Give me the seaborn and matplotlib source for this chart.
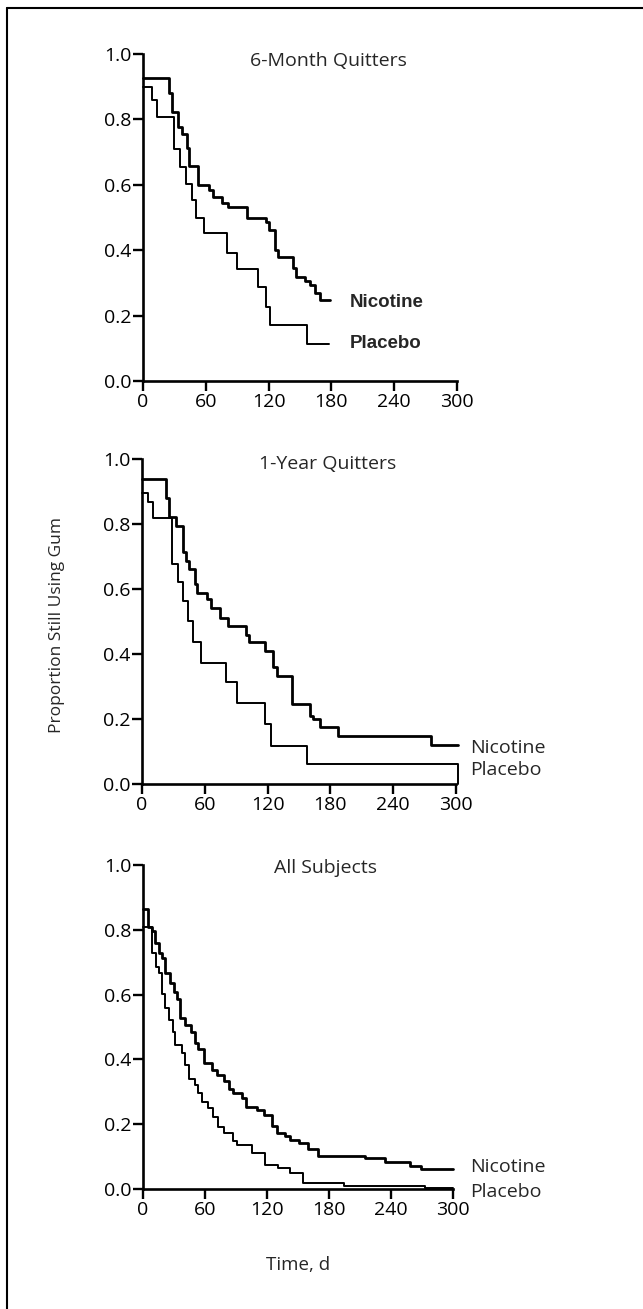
import matplotlib
matplotlib.use("Agg")
import matplotlib.pyplot as plt
from matplotlib.lines import Line2D
import seaborn as sns

# Kaplan-Meier style step data: (time in days, proportion still using gum)
m6_nic_t = [0, 25.2, 27.4, 33.8, 36.9, 42.3, 44.3, 52.2, 63.3, 67.2, 75.1, 81.5, 99.0, 117.5,
            120.7, 126.1, 129.3, 143.0, 146.1, 154.7, 159.5, 164.3, 169.1, 178.6]
m6_nic_s = [0.926, 0.882, 0.824, 0.778, 0.757, 0.712, 0.658, 0.599, 0.584, 0.564, 0.543, 0.531,
            0.499, 0.485, 0.462, 0.401, 0.378, 0.345, 0.319, 0.306, 0.294, 0.270, 0.248, 0.248]
m6_pla_t = [0, 8.3, 13.1, 29.6, 35.3, 41.1, 46.5, 50.6, 58.3, 79.9, 90.1, 109.5, 117.2, 121.3,
            157, 178]
m6_pla_s = [0.900, 0.859, 0.808, 0.709, 0.655, 0.602, 0.554, 0.498, 0.452, 0.391, 0.342, 0.288,
            0.225, 0.171, 0.113, 0.113]

y1_nic_t = [0, 22.9, 25.8, 32.5, 38.9, 42, 45.2, 50.6, 52.8, 62.4, 65.6, 74.5, 82.5, 99.3, 102.2,
            117.5, 125.4, 128.6, 143.6, 160.5, 163.6, 170, 187, 276, 302]
y1_nic_s = [0.938, 0.879, 0.821, 0.794, 0.715, 0.687, 0.662, 0.615, 0.587, 0.568, 0.541, 0.512,
            0.486, 0.458, 0.438, 0.409, 0.361, 0.333, 0.246, 0.209, 0.199, 0.176, 0.148, 0.120, 0.120]
y1_pla_t = [0, 6, 10.2, 28.4, 34.1, 39.5, 44.3, 48.4, 56.1, 79.9, 90.5, 117.5, 123, 157.9, 302]
y1_pla_s = [0.894, 0.869, 0.817, 0.676, 0.622, 0.563, 0.502, 0.438, 0.373, 0.313, 0.250, 0.184,
            0.118, 0.062, 0.0]

all_nic_t = [0, 5.1, 8.4, 11.6, 15.8, 18.1, 21.3, 26.1, 30, 33.2, 35.8, 40.7, 46.2, 50.3, 53, 59,
             66.5, 71.9, 78.7, 83.5, 87.4, 95.5, 99.4, 110, 117, 124.6, 129.4, 137.5, 142.3, 151.3,
             160, 169.7, 214.9, 234.3, 258.5, 268.8, 299.8]
all_nic_s = [0.863, 0.810, 0.796, 0.758, 0.727, 0.712, 0.666, 0.635, 0.609, 0.585, 0.527, 0.506,
             0.486, 0.452, 0.431, 0.388, 0.367, 0.352, 0.334, 0.308, 0.295, 0.280, 0.254, 0.244,
             0.228, 0.194, 0.174, 0.164, 0.151, 0.141, 0.123, 0.103, 0.095, 0.082, 0.072, 0.062,
             0.062]
all_pla_t = [0, 8.4, 12.6, 15.8, 18.7, 21.3, 25.2, 28.7, 31, 37.5, 40.7, 44.8, 50.3, 53.5, 56.8,
             62.6, 67.5, 72.9, 78.4, 86.8, 91.3, 105.2, 118.1, 131, 142.3, 154.6, 194.6, 273, 300]
all_pla_s = [0.810, 0.729, 0.686, 0.666, 0.602, 0.558, 0.522, 0.486, 0.444, 0.419, 0.383, 0.339,
             0.321, 0.295, 0.269, 0.249, 0.223, 0.192, 0.174, 0.149, 0.136, 0.110, 0.074, 0.064,
             0.048, 0.019, 0.010, 0.003, 0.003]

titles = ["6-Month Quitters", "1-Year Quitters", "All Subjects"]
x_ticks = [0, 60, 120, 180, 240, 300]
y_ticks = [0.0, 0.2, 0.4, 0.6, 0.8, 1.0]
y_tick_labels = ["0.0", "0.2", "0.4", "0.6", "0.8", "1.0"]

sns.set_style("ticks")
plt.rcParams['font.family'] = ['Open Sans', 'DejaVu Sans']

fig = plt.figure(figsize=(6.43, 13.09), dpi=100)

# axes boxes in figure fractions [left, bottom, width, height]
boxes = [[0.2224, 0.7089, 0.4883, 0.2498],
         [0.2208, 0.4011, 0.4883, 0.2483],
         [0.2224, 0.0917, 0.4821, 0.2475]]
series = [(m6_nic_t, m6_nic_s, m6_pla_t, m6_pla_s),
          (y1_nic_t, y1_nic_s, y1_pla_t, y1_pla_s),
          (all_nic_t, all_nic_s, all_pla_t, all_pla_s)]
title_y = [0.98, 0.985, 0.99]
# label positions (x, nicotine y, placebo y)
label_pos = [(198, 0.239, 0.115), (314, 0.111, 0.043), (317, 0.069, -0.008)]

for i in range(3):
    ax = fig.add_axes(boxes[i])
    nt, ns, pt, ps = series[i]
    sns.lineplot(x=nt, y=ns, ax=ax, drawstyle='steps-post', color='black', linewidth=2.0,
                 estimator=None, sort=False, clip_on=False)
    sns.lineplot(x=pt, y=ps, ax=ax, drawstyle='steps-post', color='black', linewidth=1.4,
                 estimator=None, sort=False, clip_on=False)
    ax.set_xlim(0, 300)
    ax.set_ylim(0, 1)
    ax.set_xticks(x_ticks)
    ax.set_xticklabels([str(v) for v in x_ticks])
    ax.set_yticks(y_ticks)
    ax.set_yticklabels(y_tick_labels)
    ax.tick_params(direction='out', length=7, width=1.7, labelsize=14, pad=1.5, colors='black')
    sns.despine(ax=ax)
    for side in ['left', 'bottom']:
        ax.spines[side].set_linewidth(1.9)
        ax.spines[side].set_color('black')
    ax.set_xlabel('')
    ax.set_ylabel('')
    ax.text(177, title_y[i], titles[i], ha='center', va='center', fontsize=14)
    lx, ly_n, ly_p = label_pos[i]
    if i == 0:
        ax.text(lx, ly_n, "Nicotine", ha='left', va='center', fontsize=13.5,
                family=['Liberation Sans', 'DejaVu Sans'], fontweight='bold', clip_on=False)
        ax.text(lx, ly_p, "Placebo", ha='left', va='center', fontsize=13.5,
                family=['Liberation Sans', 'DejaVu Sans'], fontweight='bold', clip_on=False)
    else:
        ax.text(lx, ly_n, "Nicotine", ha='left', va='center', fontsize=14, clip_on=False)
        ax.text(lx, ly_p, "Placebo", ha='left', va='center', fontsize=14, clip_on=False)

fig.text(57 / 643, 1 - 625 / 1309, "Proportion Still Using Gum", rotation=90,
         ha='center', va='center', fontsize=12.5)
fig.text(298 / 643, 1 - 1265 / 1309, "Time, d", ha='center', va='center', fontsize=13.5)

# page frame (left and top rules)
fig.add_artist(Line2D([7 / 643, 7 / 643], [0, 1 - 8 / 1309], transform=fig.transFigure,
                      color='black', linewidth=1.5))
fig.add_artist(Line2D([7 / 643, 1], [1 - 8 / 1309, 1 - 8 / 1309], transform=fig.transFigure,
                      color='black', linewidth=1.5))

fig.savefig("out.png", dpi=100)
